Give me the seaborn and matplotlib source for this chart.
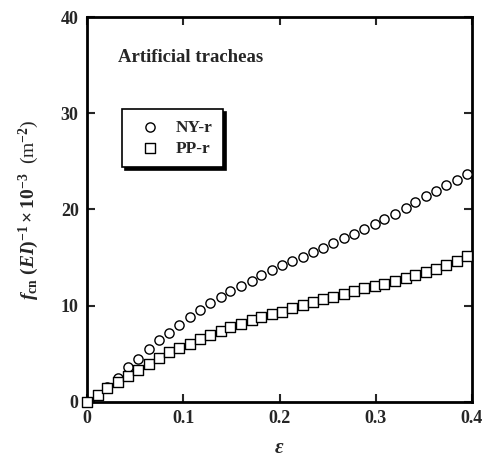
import matplotlib
matplotlib.use("Agg")
import matplotlib.pyplot as plt
import seaborn as sns

# strain values
strain = [0.000, 0.011, 0.021, 0.032, 0.043, 0.053, 0.064, 0.075, 0.085, 0.096,
          0.107, 0.117, 0.128, 0.139, 0.149, 0.160, 0.171, 0.181, 0.192, 0.203,
          0.213, 0.224, 0.235, 0.245, 0.256, 0.267, 0.277, 0.288, 0.299, 0.309,
          0.320, 0.331, 0.341, 0.352, 0.363, 0.373, 0.384, 0.395]
ny_r = [0.0, 0.7, 1.6, 2.5, 3.6, 4.5, 5.5, 6.4, 7.2, 8.0,
        8.8, 9.6, 10.3, 10.9, 11.5, 12.1, 12.6, 13.2, 13.7, 14.2,
        14.6, 15.1, 15.6, 16.0, 16.5, 17.0, 17.5, 18.0, 18.5, 19.0,
        19.5, 20.2, 20.8, 21.4, 21.9, 22.5, 23.1, 23.7]
pp_r = [0.0, 0.7, 1.45, 2.1, 2.7, 3.3, 3.9, 4.6, 5.2, 5.6,
        6.0, 6.5, 7.0, 7.4, 7.8, 8.1, 8.5, 8.8, 9.1, 9.4,
        9.8, 10.1, 10.4, 10.7, 10.9, 11.2, 11.5, 11.8, 12.0, 12.3,
        12.6, 12.9, 13.2, 13.5, 13.8, 14.2, 14.6, 15.2]
x_ticks = [0, 0.1, 0.2, 0.3, 0.4]
x_labels = ["0", "0.1", "0.2", "0.3", "0.4"]
y_ticks = [0, 10, 20, 30, 40]

sns.set_style("ticks")
plt.rcParams["font.family"] = ["Liberation Serif", "DejaVu Serif"]
plt.rcParams["font.weight"] = "bold"
plt.rcParams["mathtext.fontset"] = "custom"
plt.rcParams["mathtext.rm"] = "Liberation Serif:bold"
plt.rcParams["mathtext.bf"] = "Liberation Serif:bold"
plt.rcParams["mathtext.it"] = "Liberation Serif:italic:bold"

fig = plt.figure(figsize=(4.93, 4.57), dpi=100)
ax = fig.add_axes([0.1765, 0.1204, 0.7809, 0.8424])

sns.scatterplot(x=strain, y=ny_r, marker="o", s=44, color="white",
                edgecolor="black", linewidth=1.0, label="NY-r", ax=ax,
                zorder=3, clip_on=False)
sns.scatterplot(x=strain, y=pp_r, marker="s", s=48, color="white",
                edgecolor="black", linewidth=1.0, label="PP-r", ax=ax,
                zorder=3, clip_on=False)

ax.set_xlim(0, 0.4)
ax.set_ylim(0, 40)
ax.set_xticks(x_ticks)
ax.set_xticklabels(x_labels)
ax.set_yticks(y_ticks)
ax.tick_params(direction="in", length=6, width=1.5, top=True, right=True,
               labelsize=13, pad=6)
for side in ax.spines.values():
    side.set_linewidth(2)
    side.set_color("black")
for lab in ax.get_xticklabels() + ax.get_yticklabels():
    lab.set_fontweight("bold")

ax.set_xlabel("ε", fontsize=15, fontstyle="italic", fontweight="bold", labelpad=8)
ax.set_ylabel(r"$f_{\mathrm{cn}}\ (EI)^{-1}\times 10^{-3}$  (m$^{-2}$)",
              fontsize=14, labelpad=14)

ax.text(0.08, 0.895, "Artificial tracheas", transform=ax.transAxes,
        fontsize=13.5, fontweight="bold", va="center", ha="left")

leg = ax.legend(loc="upper left", bbox_to_anchor=(0.091, 0.761), borderaxespad=0,
                frameon=True, fancybox=False, shadow={"color": "black", "alpha": 1},
                prop={"size": 12.5, "weight": "bold"}, handletextpad=0.5,
                borderpad=0.6, labelspacing=0.3)
leg.get_frame().set_edgecolor("black")
leg.get_frame().set_linewidth(1.2)
leg.get_frame().set_alpha(1)

fig.savefig("out.png", dpi=100)
